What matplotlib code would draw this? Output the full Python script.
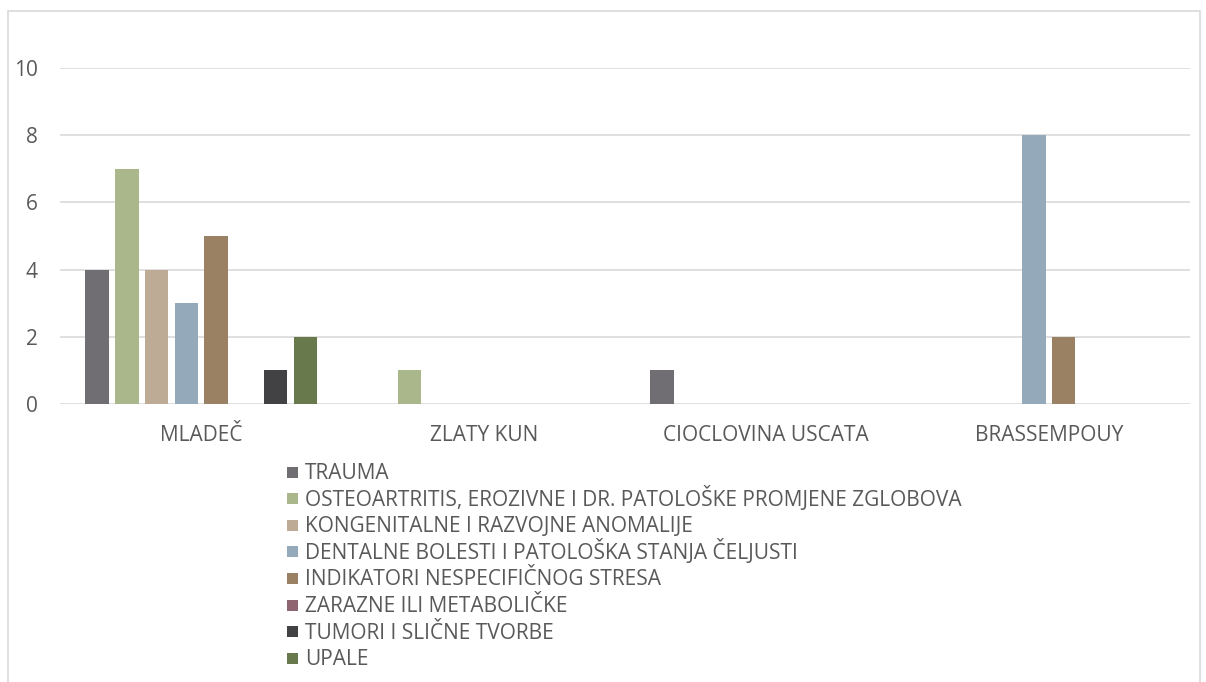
import numpy as np
import matplotlib.pyplot as plt
from matplotlib.patches import Rectangle

plt.rcParams['font.family'] = ['Open Sans', 'DejaVu Sans']

# podaci
categories = ['MLADEČ', 'ZLATY KUN', 'CIOCLOVINA USCATA', 'BRASSEMPOUY']
series_names = [
    'TRAUMA',
    'OSTEOARTRITIS, EROZIVNE I DR. PATOLOŠKE PROMJENE ZGLOBOVA',
    'KONGENITALNE I RAZVOJNE ANOMALIJE',
    'DENTALNE BOLESTI I PATOLOŠKA STANJA ČELJUSTI',
    'INDIKATORI NESPECIFIČNOG STRESA',
    'ZARAZNE ILI METABOLIČKE',
    'TUMORI I SLIČNE TVORBE',
    'UPALE',
]
trauma = [4, 0, 1, 0]
osteo = [7, 1, 0, 0]
kongenitalne = [4, 0, 0, 0]
dentalne = [3, 0, 0, 8]
indikatori = [5, 0, 0, 2]
zarazne = [0, 0, 0, 0]
tumori = [1, 0, 0, 0]
upale = [2, 0, 0, 0]
values = [trauma, osteo, kongenitalne, dentalne, indikatori, zarazne, tumori, upale]
colors = ['#706e73', '#a9b78a', '#bdab96', '#94a9b9',
          '#9b8163', '#8f6571', '#424244', '#687a4b']

W, H = 1206, 682
fs = 15
txt_color = '#595959'
fig = plt.figure(figsize=(W / 100, H / 100), dpi=100)

# okvir grafikona
fig.patches.append(Rectangle((8 / W, -0.1), 1192 / W, 1.1 - 11 / H,
                             transform=fig.transFigure, fill=False,
                             edgecolor='#d9d9d9', linewidth=1.2))

ax = fig.add_axes([60 / W, 1 - 404 / H, 1130 / W, 336 / H])

x = np.arange(len(categories))
n = len(values)
slot = 0.843 / n
bar_w = slot * 0.79
for i, (vals, c) in enumerate(zip(values, colors)):
    offs = (i - (n - 1) / 2) * slot
    ax.bar(x + offs, vals, width=bar_w, color=c, zorder=3)

ax.set_xlim(-0.5, len(categories) - 0.5)
ax.set_ylim(0, 10)
ax.set_yticks(range(0, 11, 2))
ax.set_xticks(x)
ax.set_xticklabels(categories)
ax.tick_params(axis='both', length=0, colors=txt_color, labelsize=fs)
ax.tick_params(axis='x', pad=15)
ax.tick_params(axis='y', pad=16)
ax.grid(axis='y', color='#d9d9d9', linewidth=1.2, zorder=0)
for s in ax.spines.values():
    s.set_visible(False)

# legenda - ručno, jednaki razmaci redova
row0, row_step = 472, 26.6
sq = 11
for i, (name, c) in enumerate(zip(series_names, colors)):
    yc = row0 + i * row_step
    fig.patches.append(Rectangle((287 / W, 1 - (yc + sq / 2) / H), sq / W, sq / H,
                                 transform=fig.transFigure, facecolor=c,
                                 edgecolor='none'))
    fig.text(305 / W, 1 - (yc + 7) / H, name, fontsize=fs, color=txt_color,
             ha='left', va='baseline')

fig.savefig('out.png', dpi=100)
